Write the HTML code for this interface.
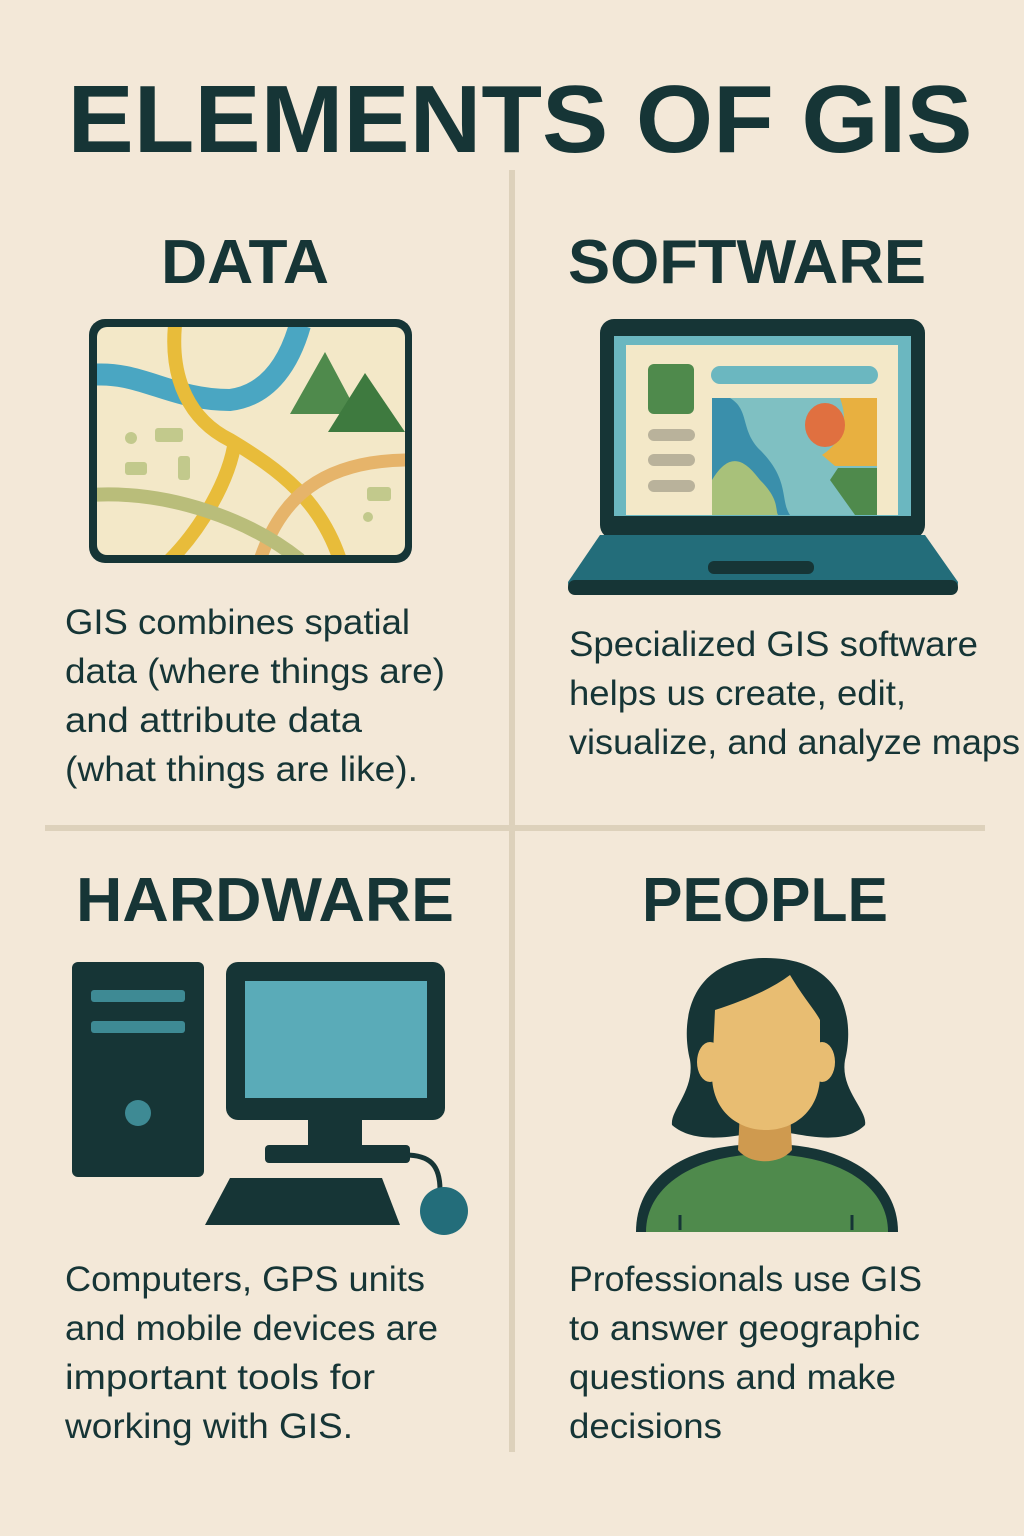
<!DOCTYPE html>
<html><head><meta charset="utf-8"><style>
html,body{margin:0;padding:0;background:#f3e8d8;}
svg{display:block}
text{font-family:"Liberation Sans","DejaVu Sans",sans-serif;fill:#163536}
.h{font-weight:bold}
</style></head><body>
<svg width="1024" height="1536" viewBox="0 0 1024 1536">
<rect width="1024" height="1536" fill="#f3e8d8"/>
<text class="h" x="520" y="152" font-size="96" text-anchor="middle" textLength="905" lengthAdjust="spacingAndGlyphs">ELEMENTS OF GIS</text>
<rect x="509" y="170" width="6" height="1282" fill="#ddd1bb"/>
<rect x="45" y="825" width="940" height="6" fill="#ddd1bb"/>
<text class="h" x="245" y="283" font-size="62" text-anchor="middle" textLength="168" lengthAdjust="spacingAndGlyphs">DATA</text>
<text class="h" x="747" y="283" font-size="62" text-anchor="middle" textLength="358" lengthAdjust="spacingAndGlyphs">SOFTWARE</text>
<text class="h" x="265" y="921" font-size="62" text-anchor="middle" textLength="378" lengthAdjust="spacingAndGlyphs">HARDWARE</text>
<text class="h" x="765" y="921" font-size="62" text-anchor="middle" textLength="246" lengthAdjust="spacingAndGlyphs">PEOPLE</text>
<defs><clipPath id="mc"><rect x="97" y="327" width="308" height="228" rx="10"/></clipPath></defs>
<rect x="89" y="319" width="323" height="244" rx="16" fill="#163536"/>
<rect x="97" y="327" width="308" height="228" rx="10" fill="#f3e8c8"/>
<g clip-path="url(#mc)" fill="none" stroke-linecap="butt">
<path d="M90 375 C140 370 170 400 230 400 C270 395 290 360 300 325" stroke="#4aa6c2" stroke-width="22"/>
<path d="M175 325 C170 380 190 420 230 440 C280 470 320 500 340 560" stroke="#e8bc3a" stroke-width="14"/>
<path d="M235 440 C230 480 200 530 170 560" stroke="#e8bc3a" stroke-width="14"/>
<path d="M260 560 C280 500 320 460 410 460" stroke="#e6b46a" stroke-width="13"/>
<path d="M90 495 C170 490 250 520 300 560" stroke="#b9bd7a" stroke-width="14"/>
</g>
<polygon points="325,352 290,414 358,414" fill="#4f8a4c"/>
<polygon points="365,373 328,432 405,432" fill="#3e7a3f"/>
<g fill="#c2c98c"><rect x="155" y="428" width="28" height="14" rx="3"/><rect x="125" y="462" width="22" height="13" rx="3"/><rect x="178" y="456" width="12" height="24" rx="3"/><circle cx="131" cy="438" r="6"/><rect x="367" y="487" width="24" height="14" rx="3"/><circle cx="368" cy="517" r="5"/></g>
<rect x="600" y="319" width="325" height="220" rx="14" fill="#163536"/>
<rect x="614" y="336" width="297" height="180" fill="#6bb7c0"/>
<rect x="626" y="345" width="272" height="170" fill="#f3e8c8"/>
<rect x="648" y="364" width="46" height="50" rx="6" fill="#4f8a4c"/>
<rect x="711" y="366" width="167" height="18" rx="9" fill="#6bb7c0"/>
<g fill="#b9b29b"><rect x="648" y="429" width="47" height="12" rx="6"/><rect x="648" y="454" width="47" height="12" rx="6"/><rect x="648" y="480" width="47" height="12" rx="6"/></g>
<rect x="712" y="398" width="165" height="117" fill="#7fc0c2"/>
<path d="M712 398 L730 398 C750 410 740 430 760 450 C790 480 780 500 790 515 L712 515 Z" fill="#3a8fab"/>
<path d="M712 515 L712 480 C730 450 745 460 760 480 C780 500 775 510 778 515 Z" fill="#a8c17a"/>
<path d="M840 398 L877 398 L877 466 L835 466 L822 455 C845 440 848 420 840 398 Z" fill="#e8b040"/>
<ellipse cx="825" cy="425" rx="20" ry="22" fill="#e07040"/>
<path d="M838 468 L877 468 L877 515 L855 515 L830 480 Z" fill="#4f8a4c"/>
<path d="M600 535 L925 535 L958 582 C958 592 950 595 940 595 L584 595 C572 595 568 590 568 582 Z" fill="#236d7a"/>
<rect x="568" y="580" width="390" height="15" rx="7" fill="#163536"/>
<rect x="708" y="561" width="106" height="13" rx="6" fill="#163536"/>
<rect x="72" y="962" width="132" height="215" rx="6" fill="#163536"/>
<rect x="91" y="990" width="94" height="12" rx="3" fill="#3e8a94"/>
<rect x="91" y="1021" width="94" height="12" rx="3" fill="#3e8a94"/>
<circle cx="138" cy="1113" r="13" fill="#3e8a94"/>
<rect x="226" y="962" width="219" height="158" rx="12" fill="#163536"/>
<rect x="245" y="981" width="182" height="117" fill="#5aabb8"/>
<rect x="308" y="1118" width="54" height="30" fill="#163536"/>
<rect x="265" y="1145" width="145" height="18" rx="4" fill="#163536"/>
<path d="M230 1178 L382 1178 L400 1225 L205 1225 Z" fill="#163536"/>
<path d="M405 1155 C430 1155 440 1165 440 1190" stroke="#163536" stroke-width="5" fill="none"/>
<circle cx="444" cy="1211" r="24" fill="#236d7a"/>
<path d="M766 958 C690 958 680 1020 690 1060 C695 1090 670 1110 672 1125 C700 1150 760 1130 766 1130 C790 1130 840 1150 865 1125 C868 1110 840 1090 845 1060 C855 1020 845 958 766 958Z" fill="#163536"/>
<path d="M636 1232 C636 1180 680 1150 740 1145 L790 1145 C850 1150 898 1180 898 1232 Z" fill="#163536"/>
<path d="M646 1232 C646 1188 690 1160 745 1155 L785 1155 C845 1160 888 1188 888 1232 Z" fill="#4f8a4c"/>
<path d="M740 1110 L790 1110 L792 1150 C780 1165 750 1165 738 1150 Z" fill="#cf9a4f"/>
<ellipse cx="710" cy="1062" rx="13" ry="20" fill="#e8bd72"/>
<ellipse cx="822" cy="1062" rx="13" ry="20" fill="#e8bd72"/>
<path d="M715 1010 C745 1000 770 990 790 975 C805 1000 815 1010 820 1020 L820 1075 C820 1110 795 1130 766 1130 C737 1130 712 1110 712 1075 Z" fill="#e8bd72"/>
<path d="M680 1230 L680 1215 M852 1230 L852 1215" stroke="#163536" stroke-width="3"/>
<g font-size="35">
<text x="65" y="634" textLength="345" lengthAdjust="spacingAndGlyphs">GIS combines spatial</text>
<text x="65" y="683" textLength="380" lengthAdjust="spacingAndGlyphs">data (where things are)</text>
<text x="65" y="732" textLength="297" lengthAdjust="spacingAndGlyphs">and attribute data</text>
<text x="65" y="781" textLength="353" lengthAdjust="spacingAndGlyphs">(what things are like).</text>
<text x="569" y="656" textLength="409" lengthAdjust="spacingAndGlyphs">Specialized GIS software</text>
<text x="569" y="705" textLength="337" lengthAdjust="spacingAndGlyphs">helps us create, edit,</text>
<text x="569" y="754" textLength="451" lengthAdjust="spacingAndGlyphs">visualize, and analyze maps</text>
<text x="65" y="1291" textLength="360" lengthAdjust="spacingAndGlyphs">Computers, GPS units</text>
<text x="65" y="1340" textLength="373" lengthAdjust="spacingAndGlyphs">and mobile devices are</text>
<text x="65" y="1389" textLength="310" lengthAdjust="spacingAndGlyphs">important tools for</text>
<text x="65" y="1438" textLength="288" lengthAdjust="spacingAndGlyphs">working with GIS.</text>
<text x="569" y="1291" textLength="353" lengthAdjust="spacingAndGlyphs">Professionals use GIS</text>
<text x="569" y="1340" textLength="351" lengthAdjust="spacingAndGlyphs">to answer geographic</text>
<text x="569" y="1389" textLength="327" lengthAdjust="spacingAndGlyphs">questions and make</text>
<text x="569" y="1438" textLength="153" lengthAdjust="spacingAndGlyphs">decisions</text>
</g>
</svg>
</body></html>
